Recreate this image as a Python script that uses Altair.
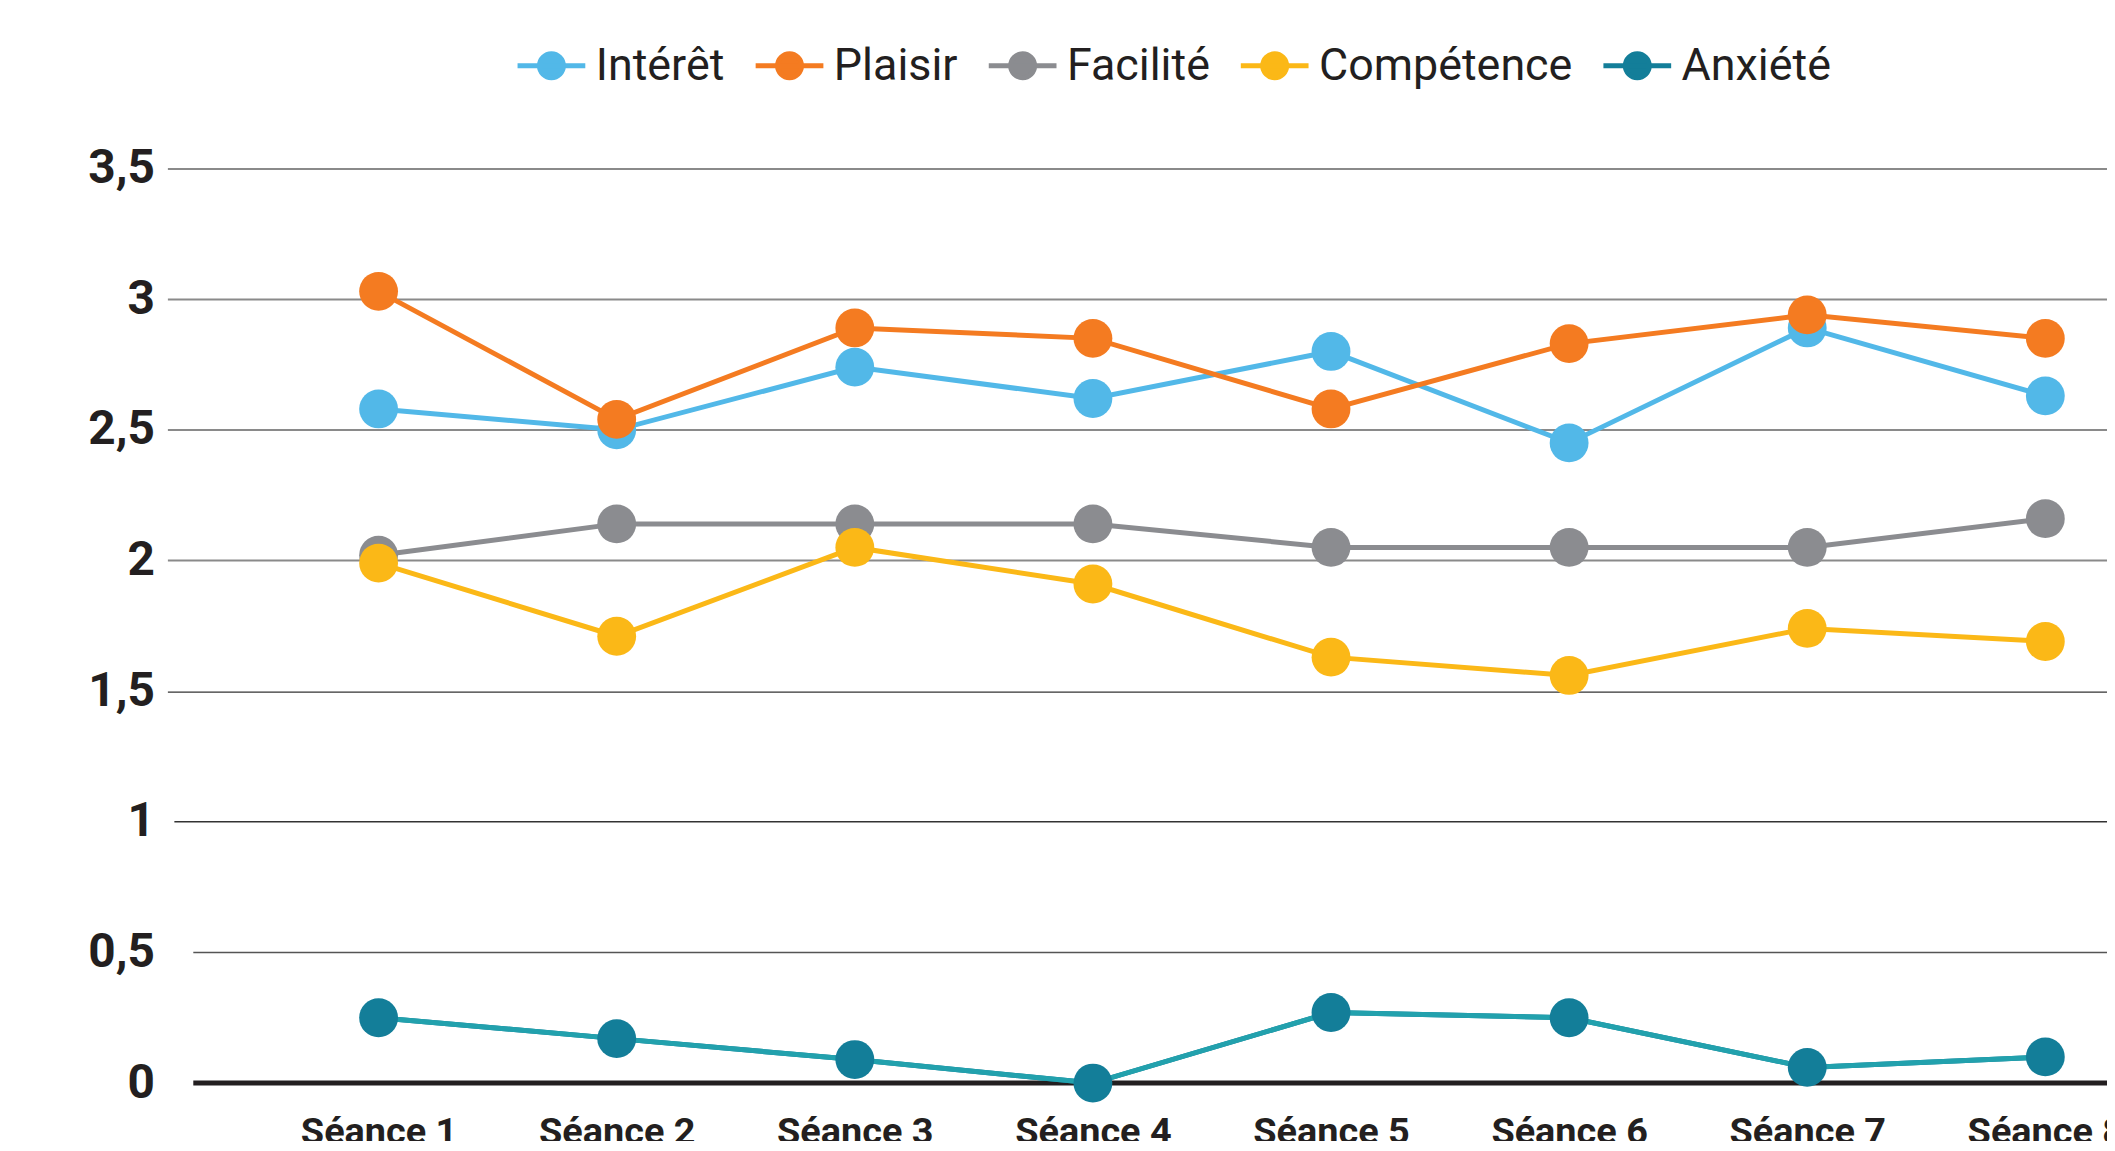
import altair as alt
import pandas as pd

sessions = [1, 2, 3, 4, 5, 6, 7, 8]
series_names = ["Intérêt", "Plaisir", "Facilité", "Compétence", "Anxiété"]
interet = [2.58, 2.50, 2.74, 2.62, 2.80, 2.45, 2.89, 2.63]
plaisir = [3.03, 2.54, 2.89, 2.85, 2.58, 2.83, 2.94, 2.85]
facilite = [2.02, 2.14, 2.14, 2.14, 2.05, 2.05, 2.05, 2.16]
competence = [1.99, 1.71, 2.05, 1.91, 1.63, 1.56, 1.74, 1.69]
anxiete = [0.25, 0.17, 0.09, 0.00, 0.27, 0.25, 0.06, 0.10]
y_ticks = [0, 0.5, 1, 1.5, 2, 2.5, 3, 3.5]

colors = ["#52b8e8", "#f47b21", "#8b8c90", "#fbb817", "#137e99"]
anx_line_color = "#22a1ad"
ink = "#231f20"
FONT = "Roboto, Liberation Sans, sans-serif"

rows = []
for name, vals in zip(series_names, [interet, plaisir, facilite, competence, anxiete]):
    for s, v in zip(sessions, vals):
        rows.append({"serie": name, "seance": s, "valeur": v})
df = pd.DataFrame(rows)

W, H = 1947, 918

x_enc = alt.X(
    "seance:Q",
    scale=alt.Scale(domain=[0.113, 8.259], nice=False, zero=False),
    axis=alt.Axis(
        values=sessions, labelExpr="'Séance ' + datum.value", title=None,
        grid=False, domain=False, ticks=False, tickSize=0, labelPadding=31,
        labelFont=FONT, labelFontSize=38, labelFontWeight="bold", labelColor=ink,
        labelFlush=False, labelOverlap=False, labelBaseline="top", labelLimit=600,
    ),
)
y_enc = alt.Y(
    "valeur:Q",
    scale=alt.Scale(domain=[0, 3.5], nice=False),
    axis=alt.Axis(
        values=y_ticks, labelExpr="replace(format(datum.value, '~g'), '.', ',')",
        title=None, domain=False, ticks=False, tickSize=0, labelPadding=13,
        labelFont=FONT, labelFontSize=48, labelFontWeight="bold", labelColor=ink,
        grid=True,
        gridColor={"condition": {"test": "datum.value >= 2", "value": "#8a8a8a"}, "value": "#333333"},
        gridWidth={"condition": {"test": "datum.value >= 2", "value": 2}, "value": 1.3},
        gridOpacity={"condition": {"test": "datum.value <= 1", "value": 0}, "value": 1},
    ),
)

legend_symbol = "M-1,0H1M0.353,0A0.353,0.353,0,1,1,-0.353,0A0.353,0.353,0,1,1,0.353,0Z"
color_scale = alt.Scale(domain=series_names, range=colors)
legend = alt.Legend(
    title=None, orient="none", legendX=349, legendY=-140, direction="horizontal",
    symbolType=legend_symbol, symbolSize=4624, symbolStrokeWidth=5,
    labelFont=FONT, labelFontSize=45, labelColor=ink, labelOffset=8,
    columnPadding=20, labelLimit=600, padding=0, symbolOpacity=1,
)
color_enc = alt.Color("serie:N", scale=color_scale, legend=legend)

base = alt.Chart(df)
one = alt.Chart(pd.DataFrame({"k": [0]}))

rule_one = one.mark_rule(color="#333333", strokeWidth=1.3).encode(
    y=alt.datum(1), x=alt.value(7), x2=alt.value(W))
rule_half = one.mark_rule(color="#555555", strokeWidth=1.5).encode(
    y=alt.datum(0.5), x=alt.value(26), x2=alt.value(W))
rule_zero = one.mark_rule(color=ink, strokeWidth=5).encode(
    y=alt.datum(0), x=alt.value(26), x2=alt.value(W))

lines = base.mark_line(strokeWidth=5).encode(x=x_enc, y=y_enc, color=color_enc)
anx_line = base.transform_filter("datum.serie == 'Anxiété'").mark_line(
    strokeWidth=5, color=anx_line_color).encode(x=x_enc, y=y_enc)
points = base.mark_point(filled=True, size=1520, opacity=1).encode(
    x=x_enc, y=y_enc, color=color_enc)

chart = alt.layer(rule_one, rule_half, rule_zero, lines, anx_line, points).properties(
    width=W, height=H,
    background="white",
    autosize=alt.AutoSizeParams(type="none"),
    padding={"left": 160, "top": 159, "right": 0, "bottom": 56},
).configure_view(stroke=None).configure_axis(domain=False, ticks=False)

chart.save("out.html", embed_options={"renderer": "svg", "actions": False})
